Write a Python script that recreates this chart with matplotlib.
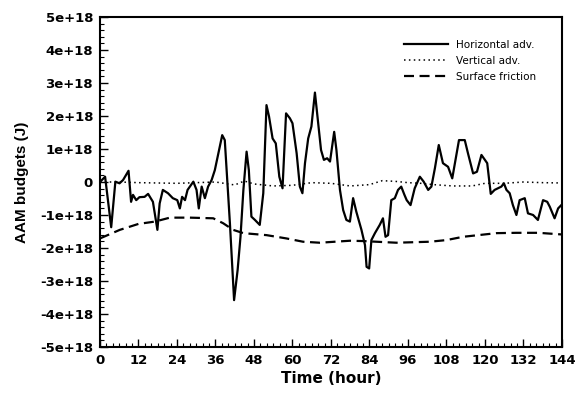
import numpy as np
import matplotlib
matplotlib.use("Agg")
import matplotlib.pyplot as plt
from matplotlib.ticker import MultipleLocator

plt.rcParams["font.family"] = ["DejaVu Sans"]

# Horizontal advection (1e18 J)
horiz_t = [0, 1.6, 3.5, 4.8, 6.1, 7.2, 8.9, 9.7, 10.3, 11.3, 12.3, 13.9, 15, 16.5, 17.9,
           18.6, 19.6, 21.2, 22.7, 24.1, 24.9, 25.6, 26.5, 27.3, 29.1, 30.1, 30.8, 31.7,
           32.7, 33.7, 34.8, 35.8, 36.9, 38.1, 38.9, 40.5, 41.8, 42.9, 43.8, 44.7, 45.7,
           46.4, 47.2, 48.3, 49.8, 50.9, 51.9, 52.7, 53.8, 54.8, 55.9, 56.9, 58, 59.2, 60,
           61.3, 62.3, 63.1, 63.9, 64.9, 65.9, 67, 68, 68.9, 69.8, 70.8, 71.7, 73, 73.7,
           74.8, 75.8, 76.8, 77.9, 78.9, 79.9, 81.5, 82.6, 83.1, 83.9, 84.6, 85.7, 87.2,
           88.2, 89, 89.8, 90.8, 91.9, 92.9, 93.9, 94.9, 95.6, 96.8, 98.1, 99.7, 100.9,
           102.3, 103.3, 104.4, 105.6, 106.9, 108.5, 109.8, 111.9, 113.7, 114.7, 116.3,
           117.5, 118.9, 120.7, 121.8, 123, 125.1, 125.9, 126.7, 127.7, 128.7, 129.8,
           130.8, 132.4, 133.4, 135, 136.5, 138.1, 139.4, 140.2, 141.7, 142.8, 144]
horiz_v = [0.0, 0.16, -1.37, 0.01, -0.04, 0.06, 0.34, -0.6, -0.39, -0.55, -0.46, -0.45, -0.36,
           -0.6, -1.45, -0.65, -0.24, -0.34, -0.49, -0.55, -0.8, -0.45, -0.55, -0.24, 0.01,
           -0.24, -0.8, -0.14, -0.49, -0.14, 0.06, 0.36, 0.87, 1.42, 1.27, -1.25, -3.58,
           -2.67, -1.66, -0.24, 0.92, 0.36, -1.05, -1.15, -1.3, -0.34, 2.33, 1.98, 1.32,
           1.17, 0.16, -0.19, 2.08, 1.93, 1.78, 0.87, -0.14, -0.34, 0.57, 1.32, 1.68, 2.71,
           1.78, 0.97, 0.67, 0.72, 0.62, 1.52, 0.97, -0.24, -0.85, -1.15, -1.2, -0.49, -0.9,
           -1.45, -1.91, -2.57, -2.62, -1.76, -1.55, -1.3, -1.1, -1.66, -1.61, -0.55, -0.49,
           -0.24, -0.14, -0.39, -0.55, -0.7, -0.19, 0.16, 0.01, -0.24, -0.14, 0.42, 1.12,
           0.57, 0.46, 0.11, 1.27, 1.27, 0.87, 0.26, 0.31, 0.82, 0.57, -0.36, -0.24, -0.14,
           -0.04, -0.24, -0.34, -0.7, -1.0, -0.55, -0.49, -0.95, -1.0, -1.15, -0.55, -0.6,
           -0.75, -1.1, -0.8, -0.68]

# Vertical advection (1e18 J)
vert_t = [0, 6, 12, 18, 24, 30, 36, 40, 42, 45, 48, 54, 60, 66, 72, 78, 84, 88, 92, 96,
          100, 104, 110, 116, 120, 126, 132, 138, 144]
vert_v = [0.0, 0.0, -0.02, -0.03, -0.04, -0.02, 0.0, -0.06, -0.09, 0.03, -0.06, -0.12,
          -0.1, -0.02, -0.04, -0.12, -0.08, 0.04, 0.02, -0.02, -0.04, -0.08, -0.12, -0.12,
          -0.04, -0.04, 0.0, -0.02, -0.03]

# Surface friction (1e18 J)
fric_t = [0, 6.2, 12, 17.1, 21.8, 28, 35.3, 38.4, 41.5, 44.7, 51.9, 58.1, 63.3, 68.5,
          77.9, 82, 92.4, 102.8, 108, 113.2, 123.6, 129.8, 136.7, 144]
fric_v = [-1.71, -1.45, -1.27, -1.2, -1.08, -1.08, -1.1, -1.25, -1.45, -1.55, -1.61, -1.71,
          -1.81, -1.84, -1.78, -1.79, -1.84, -1.81, -1.76, -1.66, -1.55, -1.54, -1.54, -1.59]

x_ticks = [0, 12, 24, 36, 48, 60, 72, 84, 96, 108, 120, 132, 144]
y_ticks = [5, 4, 3, 2, 1, 0, -1, -2, -3, -4, -5]
y_labels = ["5e+18", "4e+18", "3e+18", "2e+18", "1e+18", "0",
            "-1e+18", "-2e+18", "-3e+18", "-4e+18", "-5e+18"]

fig = plt.figure(figsize=(5.86, 4.0), dpi=100)
ax = fig.add_axes([0.1706, 0.1325, 0.7884, 0.825])

ax.plot(horiz_t, horiz_v, color="black", lw=1.6, ls="-", label="Horizontal adv.")
ax.plot(vert_t, vert_v, color="black", lw=1.1, ls=(0, (1, 2.2)), label="Vertical adv.")
ax.plot(fric_t, fric_v, color="black", lw=1.6, ls=(0, (4.5, 2.5)), label="Surface friction")

ax.set_xlim(0, 144)
ax.set_ylim(-5, 5)
ax.set_xticks(x_ticks)
ax.set_yticks(y_ticks)
ax.set_yticklabels(y_labels)
ax.xaxis.set_minor_locator(MultipleLocator(2))
ax.yaxis.set_minor_locator(MultipleLocator(0.2))
ax.tick_params(which="both", direction="in", top=False, right=False, labelsize=9.5, pad=5)
ax.tick_params(which="major", length=6, width=1)
ax.tick_params(which="minor", length=3, width=0.8)
for lab in ax.get_xticklabels() + ax.get_yticklabels():
    lab.set_fontweight("bold")
for sp in ax.spines.values():
    sp.set_linewidth(1.5)

ax.set_xlabel("Time (hour)", fontsize=11, fontweight="bold", labelpad=3)
ax.set_ylabel("AAM budgets (J)", fontsize=11, fontweight="bold", labelpad=8,
              family="Liberation Sans")

ax.legend(loc="upper right", frameon=False, fontsize=7.5, handlelength=4.2,
          handletextpad=0.8, bbox_to_anchor=(0.945, 0.93), borderaxespad=0,
          borderpad=0, labelspacing=0.55)

fig.savefig("out.png", dpi=100)
